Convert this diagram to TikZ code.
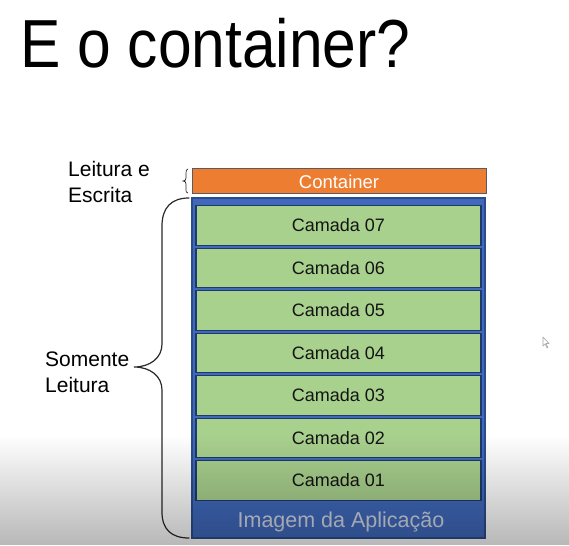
\documentclass[tikz,border=0pt]{standalone}
\usepackage{fontspec}
\setmainfont{Liberation Sans}
\usetikzlibrary{fadings}

\definecolor{orangebar}{HTML}{ED7D31}
\definecolor{barborder}{HTML}{5A5A62}
\definecolor{imgblue}{HTML}{4069BC}
\definecolor{blueborder}{HTML}{2B4C8C}
\definecolor{layergreen}{HTML}{A9D18E}
\definecolor{layerborder}{HTML}{1E3A6A}
\definecolor{bracecol}{HTML}{2A2A2A}
\definecolor{imgtext}{HTML}{D2D8E4}

\tikzfading[name=shadeup, top color=transparent!100, bottom color=transparent!72]

\tikzset{
  title/.style={font=\fontsize{68}{70}\selectfont, inner sep=0pt, anchor=base west, xscale=0.89},
  sidelabel/.style={font=\fontsize{21}{26}\selectfont, inner sep=0pt, anchor=base west},
  layer/.style={draw=layerborder, line width=1.2pt, fill=layergreen,
    minimum width=285pt, minimum height=39.5pt, inner sep=0pt,
    font=\fontsize{18}{20}\selectfont, text=black!92},
  bracepath/.style={draw=bracecol, line width=1.2pt, line cap=round},
}

\begin{document}
\begin{tikzpicture}[x=1pt,y=-1pt]
  \useasboundingbox (0,0) rectangle (569,545);
  \fill[white] (0,0) rectangle (569,545);

  % title
  \node[title] (ttl) at (20,68) {E o container?};

  % writable container layer
  \node[draw=barborder, line width=1pt, fill=orangebar, minimum width=294pt,
        minimum height=25pt, inner sep=0pt, text=white,
        font=\fontsize{18.5}{20}\selectfont] (cont) at (339,181.5) {Container};

  % read-only image with its layers
  \node[draw=blueborder, line width=1.4pt, fill=imgblue, minimum width=293pt,
        minimum height=340pt, inner sep=0pt] (img) at (338.5,368) {};
  \foreach \n [count=\i from 0] in {07,06,05,04,03,02,01} {
    \node[layer] (c\n) at (338.5,{225.5+42.5*\i}) {Camada \n};
  }
  \node[text=imgtext, font=\fontsize{21.5}{23}\selectfont, inner sep=0pt]
    (imgtxt) at (341,522) {Imagem da Aplicação};

  % side labels
  \node[sidelabel] (rw1) at (68,177) {Leitura e};
  \node[sidelabel] (rw2) at (68,203) {Escrita};
  \node[sidelabel] (ro1) at (45,366) {Somente};
  \node[sidelabel] (ro2) at (45,392) {Leitura};

  % braces
  \coordinate (sbtop) at (188,169);
  \coordinate (sbtip) at (183,181);
  \coordinate (sbbot) at (188,193);
  \draw[draw=bracecol, line width=0.7pt] (sbtop)
    .. controls (186,169) and (186,171) .. (186,174) -- (186,178)
    .. controls (186,180) and (185,181) .. (sbtip)
    .. controls (185,181) and (186,182) .. (186,184) -- (186,190)
    .. controls (186,192) .. (sbbot);

  \coordinate (bbtop) at (189,198);
  \coordinate (bbtip) at (134,367);
  \coordinate (bbbot) at (189,538);
  \draw[bracepath] (bbtop)
    .. controls (171,198) and (162,208) .. (162,226) -- (162,344)
    .. controls (162,358) and (150,367) .. (bbtip)
    .. controls (150,367) and (162,376) .. (162,390) -- (162,512)
    .. controls (162,529) and (171,538) .. (bbbot);

  % pointer
  \draw[gray!70, line width=0.6pt, line join=round]
    (543,337) -- (543,346) -- (545,344) -- (547,348) -- (548,347.5) -- (546,343.5) -- (549,343.5) -- cycle;

  % darkening toward the lower edge
  \fill[black, path fading=shadeup] (0,435) rectangle (569,545);
\end{tikzpicture}
\end{document}
